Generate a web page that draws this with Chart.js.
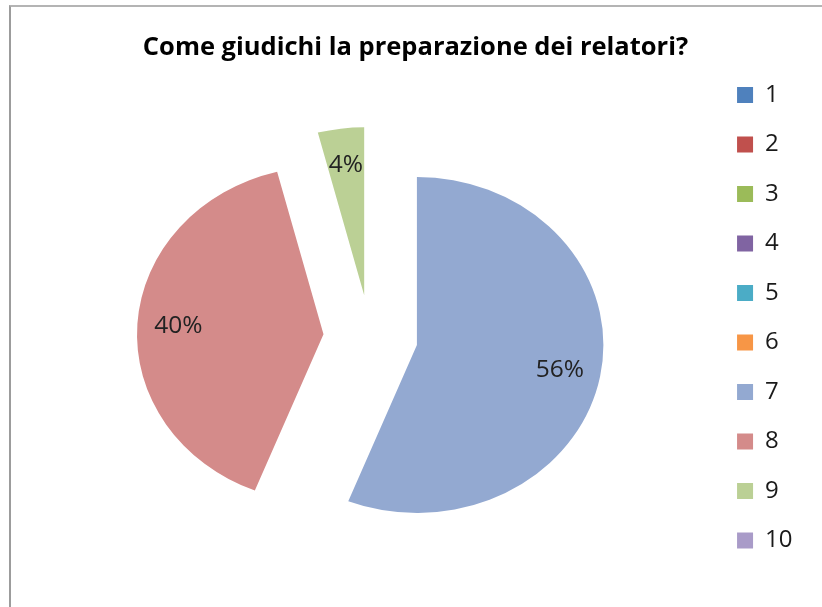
<!DOCTYPE html>
<html>
<head>
<meta charset="utf-8">
<script src="https://cdn.jsdelivr.net/npm/chart.js@4.4.0/dist/chart.umd.min.js"></script>
<style>
  html, body { margin: 0; padding: 0; background: #fff; overflow: hidden; }
  #frame { position: absolute; left: 9px; top: 5px; border-left: 2px solid #9c9c9c; border-top: 2px solid #b4b4b4; }
  #chart { display: block; }
</style>
</head>
<body>
<div id="frame"><canvas id="chart" width="818" height="600"></canvas></div>
<script>
const chartTitle = "Come giudichi la preparazione dei relatori?";
const ratings = ["1", "2", "3", "4", "5", "6", "7", "8", "9", "10"];
const answers = [0, 0, 0, 0, 0, 0, 14, 10, 1, 0];
const sliceColors = ["#4f81bd", "#c0504d", "#9bbb59", "#8064a2", "#4bacc6",
                     "#f79646", "#93a9d1", "#d48b8a", "#bbd095", "#a99bc8"];
const explode = [0, 0, 0, 0, 0, 0, 43, 42, 42, 0]; // px each slice is pulled out

const stretchX = 1.11; // the original pie is a bit wider than tall

function pullOut(arc, i) {
  const mid = (arc.startAngle + arc.endAngle) / 2;
  return { dx: Math.cos(mid) * explode[i], dy: Math.sin(mid) * explode[i], mid };
}

// draws the arcs itself so every slice can be pulled out without growing
const explodedPie = {
  id: "explodedPie",
  beforeDatasetDraw(chart, args) {
    const ctx = chart.ctx;
    args.meta.data.forEach((arc, i) => {
      const p = pullOut(arc, i);
      ctx.save();
      ctx.translate(arc.x, arc.y);
      ctx.scale(stretchX, 1);
      ctx.translate(-arc.x + p.dx, -arc.y + p.dy);
      arc.draw(ctx);
      ctx.restore();
    });
    return false;
  }
};

const percentLabels = {
  id: "percentLabels",
  afterDatasetsDraw(chart) {
    const ctx = chart.ctx;
    const total = answers.reduce((s, v) => s + v, 0);
    ctx.save();
    ctx.font = "24.5px 'Open Sans'";
    ctx.fillStyle = "#222";
    ctx.textAlign = "center";
    ctx.textBaseline = "middle";
    chart.getDatasetMeta(0).data.forEach((arc, i) => {
      if (!answers[i]) return;
      const mid = (arc.startAngle + arc.endAngle) / 2;
      const dist = explode[i] + arc.outerRadius * 0.78;
      const x = arc.x + Math.cos(mid) * dist * stretchX;
      const y = arc.y + Math.sin(mid) * dist;
      ctx.fillText(Math.round(answers[i] / total * 100) + "%", x, y);
    });
    ctx.restore();
  }
};

new Chart(document.getElementById("chart"), {
  type: "pie",
  data: {
    labels: ratings,
    datasets: [{
      data: answers,
      backgroundColor: sliceColors,
      borderWidth: 0,
      radius: 168
    }]
  },
  options: {
    responsive: false,
    animation: false,
    layout: { padding: { top: 22.6, left: 17.5, right: 26.5, bottom: 1.3 } },
    plugins: {
      title: {
        display: true,
        text: chartTitle,
        color: "#000",
        font: { family: "'Open Sans'", size: 25.5, weight: "bold" },
        padding: { top: 3.1, bottom: 5 }
      },
      legend: {
        position: "right",
        labels: {
          boxWidth: 16,
          boxHeight: 16,
          padding: 25.5,
          color: "#1a1a1a",
          font: { family: "'Open Sans'", size: 24 }
        }
      },
      tooltip: { enabled: false }
    }
  },
  plugins: [explodedPie, percentLabels]
});
</script>
</body>
</html>
